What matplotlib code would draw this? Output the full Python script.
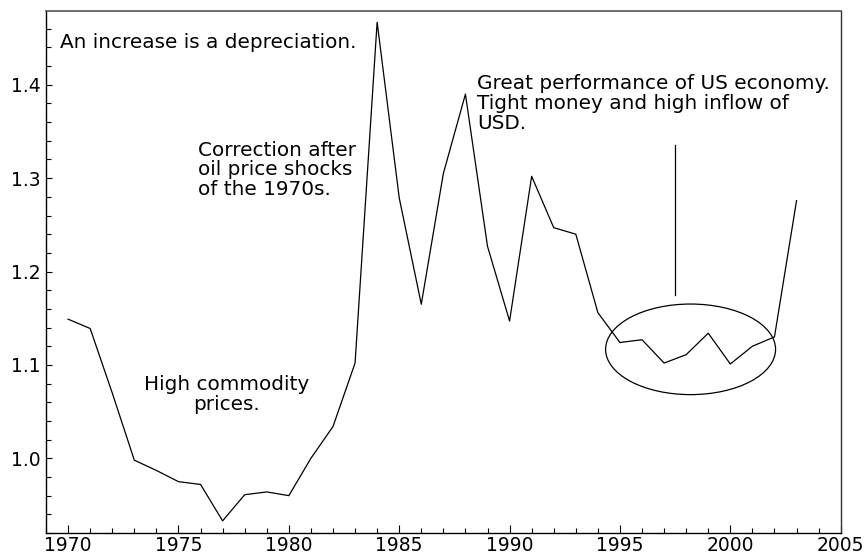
import matplotlib
matplotlib.use("Agg")
import matplotlib.pyplot as plt
from matplotlib.patches import Ellipse
from matplotlib.ticker import MultipleLocator

years = list(range(1970, 2004))
values = [1.149, 1.139, 1.070, 0.998, 0.987, 0.975, 0.972, 0.933, 0.961, 0.964,
          0.960, 1.000, 1.034, 1.102, 1.467, 1.279, 1.165, 1.305, 1.390, 1.227,
          1.147, 1.302, 1.247, 1.240, 1.156, 1.124, 1.127, 1.102, 1.111, 1.134,
          1.101, 1.120, 1.130, 1.276]

plt.rcParams['font.family'] = ['DejaVu Sans']

fig = plt.figure(figsize=(8.65, 5.59), dpi=100)
ax = fig.add_axes([0.0532, 0.0465, 0.9719 - 0.0532, 0.9803 - 0.0465])

ax.plot(years, values, color='black', lw=0.9)
ax.plot([1997.5, 1997.5], [1.175, 1.335], color='black', lw=0.9)
ax.add_patch(Ellipse((1998.2, 1.1167), 7.7, 0.097, fill=False, edgecolor='black', lw=0.9))

ax.set_xlim(1969, 2005)
ax.set_ylim(0.92, 1.479)
ax.xaxis.set_major_locator(MultipleLocator(5))
ax.xaxis.set_minor_locator(MultipleLocator(1))
ax.yaxis.set_minor_locator(MultipleLocator(0.02))
ax.set_yticks([1.0, 1.1, 1.2, 1.3, 1.4])
ax.set_yticklabels(['1.0', '1.1', '1.2', '1.3', '1.4'])
ax.tick_params(which='both', direction='in', labelsize=13.5, width=0.8)
ax.tick_params(which='major', length=6)
ax.tick_params(which='minor', length=3.5)
ax.tick_params(axis='x', pad=2)
ax.tick_params(axis='y', pad=4)
ax.tick_params(axis='y', which='major', length=4)

for s in ['left', 'bottom']:
    ax.spines[s].set_linewidth(1.0)
    ax.spines[s].set_color('black')
ax.spines['top'].set_color('#555555')
ax.spines['top'].set_linewidth(1.2)
ax.spines['right'].set_color('#333333')
ax.spines['right'].set_linewidth(1.0)

fs = 14.4
ax.text(1969.65, 1.445, 'An increase is a depreciation.', fontsize=fs, va='center', ha='left')
ax.text(1975.9, 1.309, 'Correction after\noil price shocks\nof the 1970s.', fontsize=fs,
        va='center', ha='left', linespacing=1.05)
ax.text(1988.52, 1.380, 'Great performance of US economy.\nTight money and high inflow of\nUSD.',
        fontsize=fs, va='center', ha='left', linespacing=1.05)
ax.text(1977.16, 1.068, 'High commodity\nprices.', fontsize=fs, va='center', ha='center',
        linespacing=1.05)

fig.savefig('out.png', dpi=100)
